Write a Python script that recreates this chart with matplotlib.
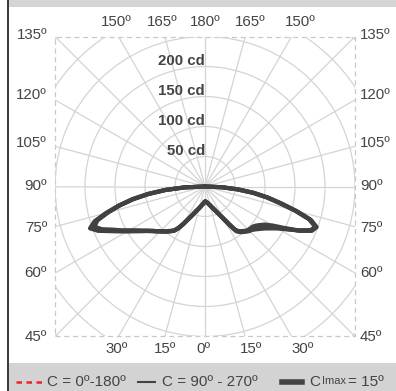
import numpy as np
import matplotlib
matplotlib.use('Agg')
import matplotlib.pyplot as plt
from matplotlib.patches import Rectangle
from matplotlib.lines import Line2D

plt.rcParams['font.family'] = ['Liberation Sans', 'DejaVu Sans']

# gamma angles (deg from nadir) and intensities (cd) for each half plane
gamma = [0, 2.5, 5, 7.5, 10, 12.5, 15, 17.5, 20, 22.5, 25, 27.5, 30, 32.5, 35,
         37.5, 40, 42.5, 45, 47.5, 50, 52.5, 55, 57.5, 60, 62.5, 65, 67.5, 70,
         72.5, 75, 77.5, 80, 82.5, 85, 87.5, 90]

# C0-C180 plane: left half / right half
c0_left = [25, 26, 28, 30, 32, 34, 37, 40, 43, 48, 54, 61, 71, 81, 89,
           93, 97, 101, 105, 110, 115, 121, 129, 137, 148, 160, 174, 191, 202,
           191, 169, 146, 122, 95, 66, 34, 0]
c0_right = [25, 25, 26, 27, 28, 30, 32, 35, 38, 42, 47, 53, 61, 73, 88,
            94, 97, 100, 102, 103, 104, 107, 112, 118, 130, 150, 174, 192, 195,
            182, 155, 127, 104, 80, 53, 27, 0]

# C90-C270 plane
c90_left = [25, 26, 28, 30, 32, 34, 37, 40, 44, 49, 55, 62, 72, 82, 90,
            94, 98, 102, 106, 110, 115, 121, 128, 136, 146, 158, 170, 186, 196,
            188, 167, 145, 121, 94, 65, 33, 0]
c90_right = [25, 25, 26, 27, 28, 30, 32, 35, 38, 42, 47, 54, 62, 75, 90,
             95, 98, 101, 104, 107, 111, 116, 122, 130, 140, 155, 173, 190, 197,
             184, 157, 129, 106, 82, 55, 28, 0]

# C plane of Imax (15)
cmax_left = [25, 26, 28, 30, 32, 35, 38, 41, 45, 50, 56, 63, 73, 83, 90,
             94, 98, 102, 106, 111, 116, 122, 130, 139, 150, 162, 176, 193, 204,
             193, 171, 148, 124, 97, 67, 35, 0]
cmax_right = [25, 25, 26, 27, 29, 31, 33, 36, 39, 43, 48, 55, 64, 77, 91,
              96, 99, 102, 105, 106, 108, 112, 118, 126, 137, 153, 175, 193, 198,
              185, 158, 130, 107, 83, 56, 29, 0]

planes = [(c0_left, c0_right), (c90_left, c90_right), (cmax_left, cmax_right)]

ring_values = [50, 100, 150, 200, 250, 300, 350]
ring_labels = ['50 cd', '100 cd', '150 cd', '200 cd']

W, H = 396, 391
fig = plt.figure(figsize=(W / 100, H / 100), dpi=100)


def fx(x):
    return x / W


def fy(y):
    return 1 - y / H


# polar axes centred at (205, 186.5) px, 0.6 px per cd, rmax 360 cd
rmax = 360
half = rmax * 0.6
cx, cy = 205, 186.5
ax = fig.add_axes([fx(cx - half), fy(cy + half), 2 * half / W, 2 * half / H],
                  projection='polar')
ax.patch.set_visible(False)
ax.spines['polar'].set_visible(False)
ax.set_theta_zero_location('S')
ax.set_ylim(0, rmax)
ax.set_xticks(np.deg2rad(np.arange(0, 360, 15)))
ax.set_xticklabels([])
ax.set_yticks(ring_values)
ax.set_yticklabels([])
ax.grid(True, color='#d4d4d4', lw=0.9)
ax.tick_params(length=0)

# square clip window of +-250 cd
sq = 250 / (2 * rmax)
clip = Rectangle((0.5 - sq, 0.5 - sq), 2 * sq, 2 * sq, transform=ax.transAxes)
ax.xaxis.set_clip_path(clip)
ax.yaxis.set_clip_path(clip)
border = Rectangle((0.5 - sq, 0.5 - sq), 2 * sq, 2 * sq, transform=ax.transAxes,
                   fill=False, edgecolor='#c8c8c8', lw=0.9, linestyle=(0, (4, 3)),
                   clip_on=False)
ax.add_patch(border)

g = np.array(gamma)
for left, right in planes:
    theta = np.deg2rad(np.concatenate([-g[::-1], g]))
    r = np.concatenate([np.array(left)[::-1], np.array(right)])
    ax.plot(theta, r, color='#414141', lw=3.0, solid_joinstyle='round',
            solid_capstyle='round')

for val, lab in zip(ring_values, ring_labels):
    ax.text(np.pi, val + 2, lab, ha='right', va='baseline', fontsize=10.8,
            fontweight='bold', color='#444444')

# angle labels around the square
txt = dict(fontsize=10.8, color='#444444', va='center')
for x, lab in [(116.7, '150º'), (162.5, '165º'), (205, '180º'),
               (250, '165º'), (300, '150º')]:
    fig.text(fx(x), fy(21.5), lab, ha='center', **txt)
for x, lab in [(116.7, '30º'), (165, '15º'), (203.5, '0º'),
               (251, '15º'), (302.5, '30º')]:
    fig.text(fx(x), fy(349), lab, ha='center', **txt)
for y, lab in [(35, '135º'), (95, '120º'), (143, '105º'), (186.5, '90º'),
               (228, '75º'), (273, '60º'), (337, '45º')]:
    fig.text(fx(47), fy(y), lab, ha='right', **txt)
    fig.text(fx(360), fy(y), lab, ha='left', **txt)

# frame pieces: top band, legend band, left rule
fig.add_artist(Rectangle((fx(9), fy(7)), 1, 7 / H, transform=fig.transFigure,
                         facecolor='#d5d5d5', edgecolor='none'))
fig.add_artist(Rectangle((fx(9), 0), 1, 28 / H, transform=fig.transFigure,
                         facecolor='#d3d3d3', edgecolor='none'))
fig.add_artist(Rectangle((fx(7), 0), 2 / W, 1, transform=fig.transFigure,
                         facecolor='#3b3e38', edgecolor='none'))

# legend
ly = fy(381.5)
fig.add_artist(Line2D([fx(16), fx(42)], [ly, ly], transform=fig.transFigure,
                      color='#e8262a', lw=1.8, linestyle=(0, (2.2, 1.8))))
fig.text(fx(47), ly, 'C = 0º-180º', ha='left', va='center', fontsize=11,
         color='#444444')
fig.add_artist(Line2D([fx(138), fx(155)], [ly, ly], transform=fig.transFigure,
                      color='#444444', lw=1.5))
fig.text(fx(162), ly, 'C = 90º - 270º', ha='left', va='center', fontsize=11,
         color='#444444')
fig.add_artist(Line2D([fx(282), fx(302)], [ly, ly], transform=fig.transFigure,
                      color='#444444', lw=4))
fig.text(fx(309), ly, 'C', ha='left', va='center', fontsize=11, color='#444444')
fig.text(fx(322), ly, 'Imax', ha='left', va='center', fontsize=8,
         color='#444444')
fig.text(fx(348), ly, '= 15º', ha='left', va='center', fontsize=11,
         color='#444444')

fig.savefig('out.png', dpi=100)
